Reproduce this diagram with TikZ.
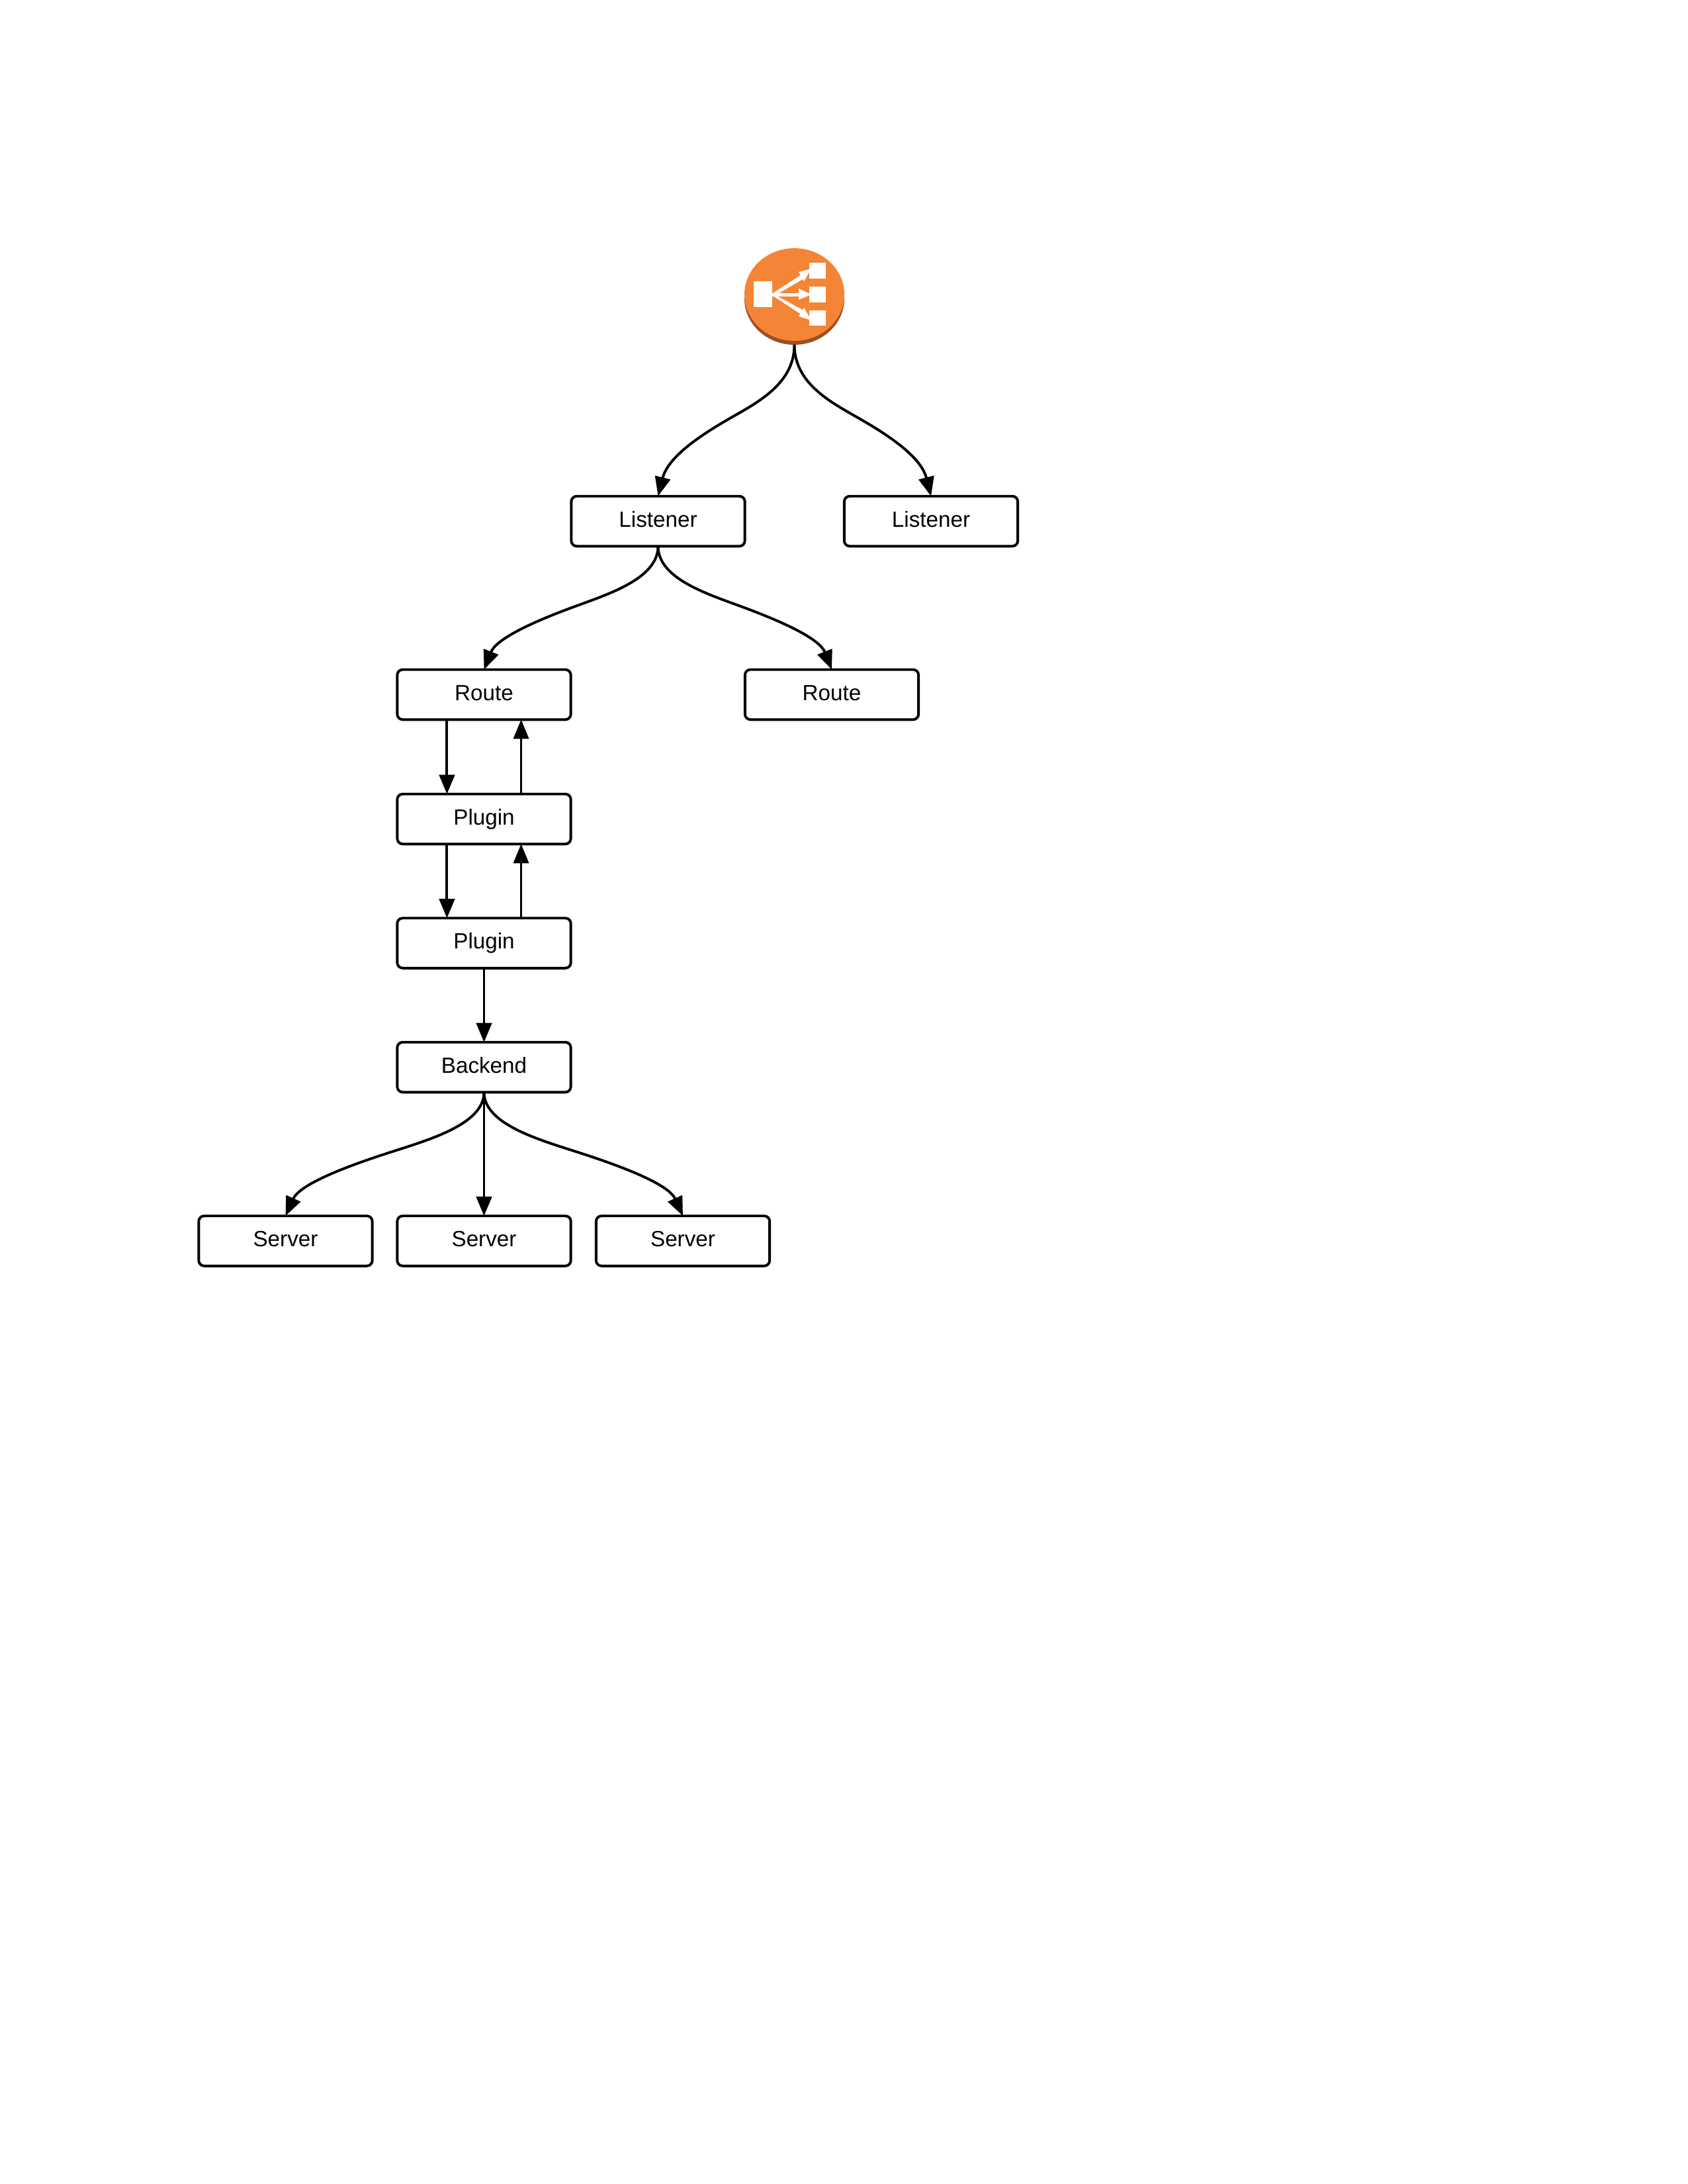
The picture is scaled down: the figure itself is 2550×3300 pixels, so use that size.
\documentclass[tikz,border=0pt]{standalone}
\usepackage{fontspec}
\setmainfont{Liberation Sans}
\usetikzlibrary{arrows.meta,calc,shapes.geometric}
\definecolor{lbor}{HTML}{F58536}
\definecolor{lbsh}{HTML}{9D5025}
\tikzset{
  boxnode/.style={draw=black,fill=white,rounded corners=2pt,line width=0.95pt,minimum width=63.2pt,minimum height=18.2pt,inner sep=0pt,outer sep=0pt,font=\fontsize{8pt}{10pt}\selectfont,text height=6pt,text depth=1.9pt},
  conn/.style={line width=0.95pt,-{Triangle[length=7pt,width=5.6pt]}},
  connthin/.style={line width=0.7pt,-{Triangle[length=7pt,width=5.6pt]}},
  lbdisc/.style={ellipse,minimum width=36.4pt,minimum height=33.7pt,inner sep=0pt,outer sep=0pt},
  iconwhite/.style={fill=white,draw=none},
}
\newcommand\curveconn[2]{\draw[conn] let \p1=(#1), \p2=(#2), \n1={\x2-\x1}, \n2={\y2-\y1} in
  (#1) .. controls (\x1,\y1+0.27*\n2) and (\x1+0.3*\n1,\y1+0.394*\n2) .. (\x1+0.5*\n1,\y1+0.5*\n2)
  .. controls (\x1+0.72*\n1,\y1+0.615*\n2) and (\x2-0.07*\n1,\y2-0.25*\n2) .. (#2);}
\begin{document}
\begin{tikzpicture}[x=0.24bp,y=-0.24bp]
\useasboundingbox (0,0) rectangle (2550,3300);
% load balancer icon
\node[lbdisc,fill=lbsh] (lbshadow) at (1200.5,451) {};
\node[lbdisc,fill=lbor] (lb) at (1200.5,445) {};
\fill[iconwhite] (1139,425) rectangle (1167,464);
\fill[iconwhite] (1223,397) rectangle (1248,421);
\fill[iconwhite] (1223,433) rectangle (1248,457);
\fill[iconwhite] (1223,469) rectangle (1248,492);
\fill[iconwhite] (1165,445) -- (1214,413) -- (1218,419) -- (1172,446) -- (1218,471) -- (1214,477) -- (1165,445) -- cycle;
\fill[iconwhite] (1165,442.5) rectangle (1212,447.5);
\fill[iconwhite] (1207,411) -- (1226,406) -- (1215,425) -- cycle;
\fill[iconwhite] (1207,436) -- (1226,445) -- (1207,453) -- cycle;
\fill[iconwhite] (1215,465) -- (1226,484) -- (1207,478) -- cycle;
% boxes
\node[boxnode] (l1) at (994.5,787.5) {Listener};
\node[boxnode] (l2) at (1407,787.5) {Listener};
\node[boxnode] (r1) at (731.5,1049.5) {Route};
\node[boxnode] (r2) at (1257,1049.5) {Route};
\node[boxnode] (p1) at (731.5,1237.5) {Plugin};
\node[boxnode] (p2) at (731.5,1425) {Plugin};
\node[boxnode] (b1) at (731.5,1612.5) {Backend};
\node[boxnode] (s1) at (431.5,1875) {Server};
\node[boxnode] (s2) at (731.5,1875) {Server};
\node[boxnode] (s3) at (1032,1875) {Server};
% connectors
\curveconn{lbshadow.south}{l1.north}
\curveconn{lbshadow.south}{l2.north}
\curveconn{l1.south}{r1.north}
\curveconn{l1.south}{r2.north}
\draw[conn] ([xshift=-13.5pt]r1.south) -- ([xshift=-13.5pt]p1.north);
\draw[connthin] ([xshift=13.5pt]p1.north) -- ([xshift=13.5pt]r1.south);
\draw[conn] ([xshift=-13.5pt]p1.south) -- ([xshift=-13.5pt]p2.north);
\draw[connthin] ([xshift=13.5pt]p2.north) -- ([xshift=13.5pt]p1.south);
\draw[conn] (p2.south) -- (b1.north);
\curveconn{b1.south}{s1.north}
\draw[conn] (b1.south) -- (s2.north);
\curveconn{b1.south}{s3.north}
\end{tikzpicture}
\end{document}
